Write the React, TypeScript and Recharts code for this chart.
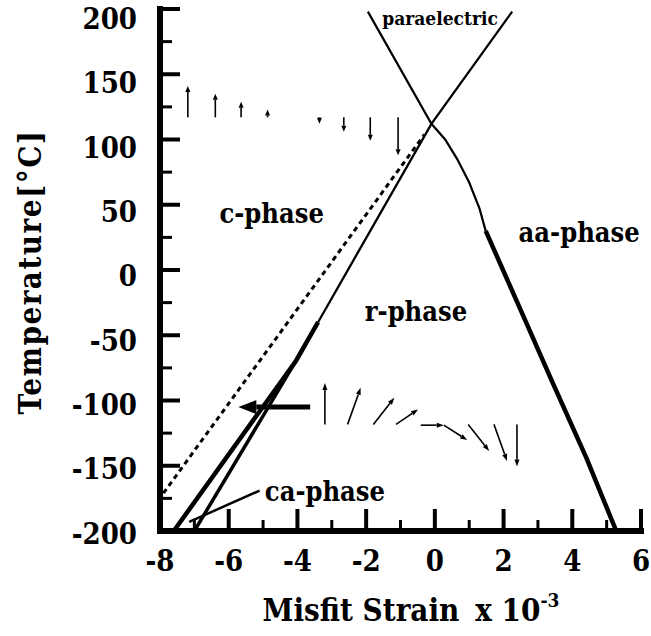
import { LineChart, Line, XAxis, YAxis, ReferenceLine, ReferenceDot } from "recharts";

const FONT = "'DejaVu Serif Condensed', 'DejaVu Serif', serif";

// axis ticks
const xTicks = [-8, -7, -6, -5, -4, -3, -2, -1, 0, 1, 2, 3, 4, 5, 6];
const yTicks = [-200, -175, -150, -125, -100, -75, -50, -25, 0, 25, 50, 75, 100, 125, 150, 175, 200];

// phase boundaries (misfit strain x10^-3, temperature °C)
const aaUpper = [
  { x: -1.95, y: 198 }, { x: -0.1, y: 112 }, { x: 0.3, y: 100 }, { x: 0.65, y: 85 },
  { x: 1.0, y: 67 }, { x: 1.3, y: 47 }, { x: 1.48, y: 30 },
];
const aaLower = [
  { x: 1.48, y: 30 }, { x: 2.47, y: -29 }, { x: 3.44, y: -87 }, { x: 4.41, y: -144 }, { x: 5.28, y: -200 },
];
const rcUpper = [{ x: 2.25, y: 198 }, { x: -0.1, y: 112 }, { x: -3.4, y: -40 }];
const rcOuter = [{ x: -3.4, y: -40 }, { x: -4.04, y: -69.5 }, { x: -7.6, y: -200 }];
const caInner = [{ x: -4.04, y: -69.5 }, { x: -7.0, y: -200 }];
const dashedBoundary = [{ x: -7.9, y: -171 }, { x: -0.3, y: 104 }];
const caPointer = [{ x: -5.1, y: -169 }, { x: -7.15, y: -193 }];

// polarization arrows in c-phase (vertical)
const cArrowX = [-7.19, -6.39, -5.64, -4.87, -3.36, -2.65, -1.88, -1.07];
const cArrowBase = 117;
const cArrowTip = [141, 135, 129, 123, 112, 106, 99, 88];

// polarization arrows in r-phase
const rArrowFrom = [
  [-3.2, -118.3], [-2.54, -118.3], [-1.79, -118.3], [-1.13, -118.3], [-0.41, -118.9],
  [0.26, -118.9], [0.97, -118.3], [1.72, -118.3], [2.39, -118.3],
];
const rArrowTo = [
  [-3.2, -86.5], [-2.16, -90.3], [-1.18, -97.9], [-0.49, -106.9], [0.26, -118.9],
  [0.94, -130.3], [1.58, -138.7], [2.1, -146.3], [2.39, -150.6],
];

// big arrow into ca-phase
const bigArrow = [[-3.63, -105], [-5.72, -105]];

const phaseLabels = [
  { text: "paraelectric", x: 0.15, y: 193, size: 19 },
  { text: "c-phase", x: -4.75, y: 43, size: 27 },
  { text: "aa-phase", x: 4.2, y: 29, size: 27 },
  { text: "r-phase", x: -0.55, y: -32, size: 27 },
  { text: "ca-phase", x: -3.2, y: -169.5, size: 27 },
];

const arrowShape = (head: number, half: number, width: number) => (p: any) => {
  const { x1, y1, x2, y2 } = p;
  const a = Math.atan2(y2 - y1, x2 - x1);
  const bx = x2 - head * Math.cos(a);
  const by = y2 - head * Math.sin(a);
  const nx = -Math.sin(a) * half;
  const ny = Math.cos(a) * half;
  return (
    <g>
      <line x1={x1} y1={y1} x2={bx} y2={by} stroke="#000" strokeWidth={width} />
      <polygon points={`${x2},${y2} ${bx + nx},${by + ny} ${bx - nx},${by - ny}`} fill="#000" />
    </g>
  );
};

const XTick = (props: any) => {
  const { x, y, payload } = props;
  const v = payload.value;
  const major = v % 2 === 0;
  return (
    <g>
      {v !== -8 && (
        <line x1={x} x2={x} y1={y} y2={y - (major ? 22 : 11)} stroke="#000" strokeWidth={major ? 4 : 3} />
      )}
      {major && (
        <text x={x} y={y + 40} textAnchor="middle" fontFamily={FONT} fontWeight={700} fontSize={29} fill="#000">
          {v}
        </text>
      )}
    </g>
  );
};

const YTick = (props: any) => {
  const { x, y, payload } = props;
  const v = payload.value;
  const major = v % 50 === 0;
  const dy = 2 + ((v + 200) / 400) * 7.5;
  return (
    <g>
      {v !== -200 && (
        <line x1={x} x2={x + (major ? 20 : 12)} y1={y} y2={y} stroke="#000" strokeWidth={major ? 4 : 3} />
      )}
      {major && (
        <text x={x - 23} y={y + dy + 10.5} textAnchor="end" fontFamily={FONT} fontWeight={700} fontSize={29} fill="#000">
          {v}
        </text>
      )}
    </g>
  );
};

const XTitle = (props: any) => {
  const vb = props.viewBox;
  return (
    <text x={vb.x + 251} y={621} textAnchor="middle" fontFamily={FONT} fontWeight={700} fontSize={31} fill="#000">
      <tspan>Misfit Strain</tspan>
      <tspan dx={16}>x 10</tspan>
      <tspan fontSize={19} dy={-14}>-3</tspan>
    </text>
  );
};

const YTitle = (props: any) => {
  const vb = props.viewBox;
  const cy = vb.y + 263;
  return (
    <text x={41} y={cy} transform={`rotate(-90 41 ${cy})`} textAnchor="middle" fontFamily={FONT} fontWeight={700} fontSize={31} letterSpacing={1.5} fill="#000">
      Temperature[°C]
    </text>
  );
};

export default function App() {
  return (
    <div>
      <style>{"body{margin:0;background:#fff}"}</style>
      <LineChart width={651} height={636} margin={{ top: 9, right: 10, left: 0, bottom: 0 }}>
        <XAxis
          type="number"
          dataKey="x"
          domain={[-8, 6]}
          ticks={xTicks}
          interval={0}
          allowDataOverflow
          height={105}
          tickSize={0}
          tickMargin={0}
          tick={<XTick />}
          tickLine={false}
          axisLine={{ stroke: "#000", strokeWidth: 6, strokeLinecap: "square" }}
          label={{ content: XTitle }}
        />
        <YAxis
          type="number"
          dataKey="y"
          domain={[-200, 200]}
          ticks={yTicks}
          interval={0}
          allowDataOverflow
          width={160}
          tickSize={0}
          tickMargin={0}
          tick={<YTick />}
          tickLine={false}
          axisLine={{ stroke: "#000", strokeWidth: 6, strokeLinecap: "square" }}
          label={{ content: YTitle }}
        />
        <Line data={dashedBoundary} dataKey="y" type="linear" stroke="#000" strokeWidth={3} strokeDasharray="5 4" dot={false} isAnimationActive={false} />
        <Line data={aaUpper} dataKey="y" type="linear" stroke="#000" strokeWidth={2.2} dot={false} isAnimationActive={false} />
        <Line data={aaLower} dataKey="y" type="linear" stroke="#000" strokeWidth={4.5} dot={false} isAnimationActive={false} />
        <Line data={rcUpper} dataKey="y" type="linear" stroke="#000" strokeWidth={2.3} dot={false} isAnimationActive={false} />
        <Line data={rcOuter} dataKey="y" type="linear" stroke="#000" strokeWidth={4.5} dot={false} isAnimationActive={false} />
        <Line data={caInner} dataKey="y" type="linear" stroke="#000" strokeWidth={3.5} dot={false} isAnimationActive={false} />
        <Line data={caPointer} dataKey="y" type="linear" stroke="#000" strokeWidth={2.5} dot={false} isAnimationActive={false} />
        {cArrowX.map((x, i) => (
          <ReferenceLine
            key={`c${i}`}
            segment={[{ x, y: cArrowBase }, { x, y: cArrowTip[i] }]}
            shape={arrowShape(6, 2.5, 1.6)}
          />
        ))}
        {rArrowFrom.map((f, i) => (
          <ReferenceLine
            key={`r${i}`}
            segment={[{ x: f[0], y: f[1] }, { x: rArrowTo[i][0], y: rArrowTo[i][1] }]}
            shape={arrowShape(7, 2.5, 1.6)}
          />
        ))}
        <ReferenceLine
          segment={[{ x: bigArrow[0][0], y: bigArrow[0][1] }, { x: bigArrow[1][0], y: bigArrow[1][1] }]}
          shape={arrowShape(18, 7, 5)}
        />
        {phaseLabels.map((l) => (
          <ReferenceDot
            key={l.text}
            x={l.x}
            y={l.y}
            r={0}
            shape={(p: any) => (
              <text x={p.cx} y={p.cy} textAnchor="middle" dominantBaseline="central" fontFamily={FONT} fontWeight={700} fontSize={l.size} fill="#000">
                {l.text}
              </text>
            )}
          />
        ))}
      </LineChart>
    </div>
  );
}
